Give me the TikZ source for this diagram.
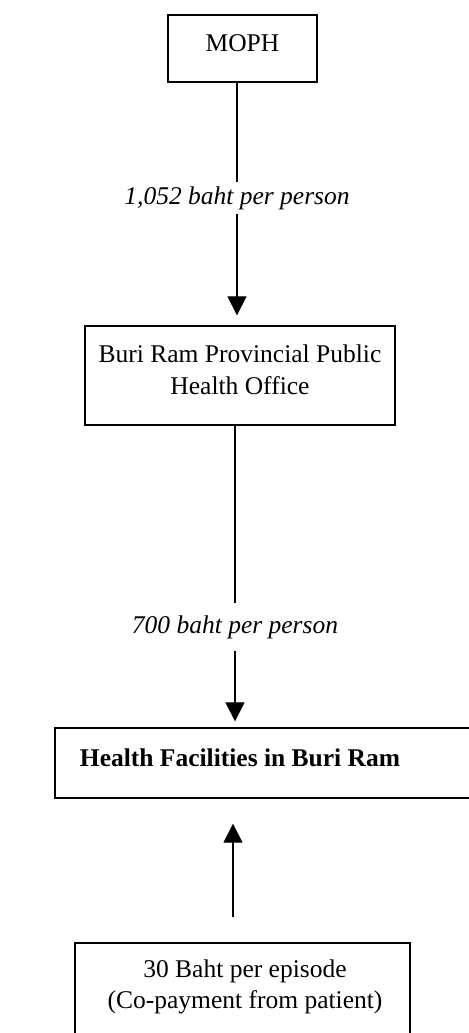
\documentclass[tikz,border=0pt]{standalone}
\usepackage{fontspec}
\setmainfont{Liberation Serif}
\usetikzlibrary{arrows.meta,calc}
\begin{document}
\begin{tikzpicture}[x=0.5pt,y=-0.5pt,
  box/.style={draw, line width=0.65pt, inner sep=0pt},
  txt/.style={font=\fontsize{12.75}{15.75}\selectfont, align=center, inner sep=0pt},
  lbl/.style={font=\fontsize{12.75}{15.75}\selectfont\itshape, inner sep=0pt},
  conn/.style={line width=0.6pt},
  arr/.style={conn,-{Triangle[length=9.5pt,width=9.5pt]}}]
\path[use as bounding box] (0,0) rectangle (468,1033);
% boxes
\node[box, minimum width=74.5pt, minimum height=33.5pt] (moph) at (242.5,48.5) {};
\node[txt] (mophT) at (242.5,43) {MOPH};
\node[box, minimum width=155pt, minimum height=49.5pt] (b2) at (240,375.5) {};
\node[txt] (b2T) at (240,370) {Buri Ram Provincial Public\\Health Office};
\node[box, minimum width=212.5pt, minimum height=35pt] (b3) at (267.5,763) {};
\node[txt, font=\fontsize{12.75}{15.75}\selectfont\bfseries] (b3T) at (240,758) {Health Facilities in Buri Ram};
\node[box, minimum width=167.5pt, minimum height=53.5pt] (b4) at (242.5,996.5) {};
\node[txt] (b4T) at (245,987) {30 Baht per episode\\(Co-payment from patient)};
% labels
\node[lbl, minimum height=16pt] (l1) at (237,198) {1,052 baht per person};
\node[lbl, minimum height=24pt] (l2) at (235,627) {700 baht per person};
% connectors
\draw[conn] (moph.south -| l1) -- (l1.north);
\draw[arr, shorten >=5pt] (l1.south) -- (l1.south |- b2.north);
\draw[conn] (b2.south -| l2) -- (l2.north);
\draw[arr, shorten >=3pt] (l2.south) -- (l2.south |- b3.north);
\draw[arr, shorten <=12.5pt, shorten >=12.5pt] ($(b4.north)+(-9.5,0)$) -- ($(b3.south)+(-34.5,0)$);
\end{tikzpicture}
\end{document}
